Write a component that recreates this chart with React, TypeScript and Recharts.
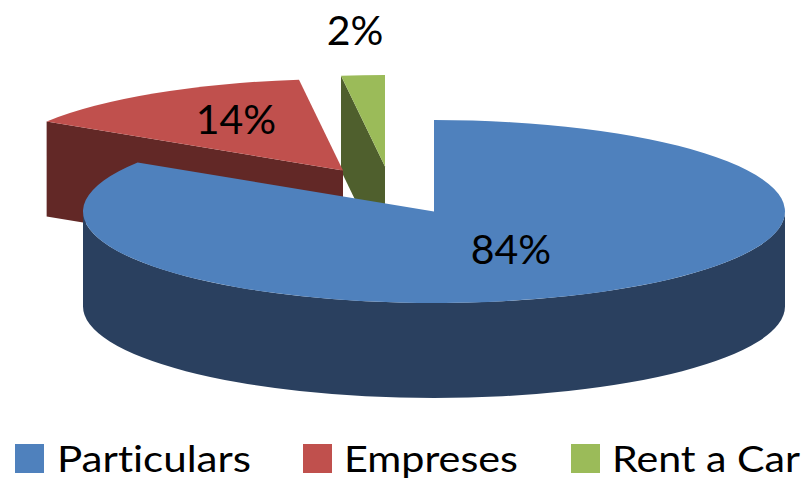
import React from 'react';
import { PieChart, Pie, Legend } from 'recharts';

// Drawn in this order, counter-clockwise from 12 o'clock, so the blue slice sits in front.
const sliceNames = ['Rent a Car', 'Empreses', 'Particulars'];
const sliceValues = [2, 14, 84];
const legendNames = ['Particulars', 'Empreses', 'Rent a Car'];

const topColors: Record<string, string> = { Particulars: '#4F81BD', Empreses: '#C0504D', 'Rent a Car': '#9BBB59' };
const sideColors: Record<string, string> = { Particulars: '#2A405F', Empreses: '#622826', 'Rent a Car': '#4F5F2D' };

const data = sliceNames.map((name, i) => ({ name, value: sliceValues[i] }));

// layout of the tilted, exploded pie
const CX = 434;
const CY = 211.5;
const RX = 351;
const TILT = 91.5 / 351;
const DEPTH = 95;
const explode: Record<string, [number, number]> = { Particulars: [0, 0], Empreses: [-91, -41], 'Rent a Car': [-49, -45] };
const labelOffset: Record<string, [number, number]> = { Particulars: [77, 37], Empreses: [-107, -52], 'Rent a Car': [-30, -137] };
const legendLayout: Record<string, { sq: number; tx: number; w: number }> = {
  Particulars: { sq: 15, tx: 57, w: 194 },
  Empreses: { sq: 303, tx: 344, w: 174 },
  'Rent a Car': { sq: 571, tx: 612, w: 188 },
};

const rad = (d: number) => (d * Math.PI) / 180;

function Slice3D(props: any) {
  const { cx, cy, outerRadius: r, startAngle, endAngle } = props;
  const name: string = props.name ?? props.payload?.name;
  const [ox, oy] = explode[name];
  const px = cx + ox;
  const py = cy + oy;
  const pt = (a: number, dz = 0): [number, number] => [px + r * Math.cos(rad(a)), py - r * TILT * Math.sin(rad(a)) + dz];
  const arc = (a: number, b: number, dz = 0) => {
    const p = pt(b, dz);
    const large = Math.abs(b - a) > 180 ? 1 : 0;
    const sweep = b > a ? 0 : 1;
    return `A${r} ${r * TILT} 0 ${large} ${sweep} ${p[0]} ${p[1]}`;
  };
  const s = pt(startAngle);
  const e = pt(endAngle);
  const ed = pt(endAngle, DEPTH);
  const top = `M${px} ${py}L${s[0]} ${s[1]}${arc(startAngle, endAngle)}Z`;
  // the cut face on the slice's counter-clockwise edge is the one that faces the viewer
  const face = `M${px} ${py}L${e[0]} ${e[1]}L${ed[0]} ${ed[1]}L${px} ${py + DEPTH}Z`;
  // outer wall: the front half of the rim only
  const a0 = Math.max(startAngle, 180);
  const a1 = Math.min(endAngle, 360);
  let wall = '';
  if (a1 > a0) {
    const w0 = pt(a0);
    const w1 = pt(a1, DEPTH);
    wall = `M${w0[0]} ${w0[1]}${arc(a0, a1)}L${w1[0]} ${w1[1]}${arc(a1, a0, DEPTH)}Z`;
  }
  const side = sideColors[name];
  return (
    <g>
      <path d={face} fill={side} />
      {wall && <path d={wall} fill={side} />}
      <path d={top} fill={topColors[name]} />
    </g>
  );
}

function sliceLabel(props: any) {
  const { cx, cy, value } = props;
  const name: string = props.name ?? props.payload?.name;
  const [ox, oy] = explode[name];
  const [lx, ly] = labelOffset[name];
  return (
    <text
      x={cx + ox + lx}
      y={cy + oy + ly}
      textAnchor="middle"
      dominantBaseline="central"
      fill="#000"
      fontSize={41}
      fontFamily="Lato"
    >
      {`${value}%`}
    </text>
  );
}

function LegendRow() {
  return (
    <svg width={805} height={50} style={{ display: 'block' }}>
      {legendNames.map((n) => (
        <g key={n}>
          <rect x={legendLayout[n].sq} y={14} width={29} height={29} fill={topColors[n]} />
          <text
            x={legendLayout[n].tx}
            y={42}
            fontSize={37}
            fontFamily="Lato"
            fill="#000"
            style={{ fontVariantLigatures: 'none' }}
            textLength={legendLayout[n].w}
            lengthAdjust="spacingAndGlyphs"
          >
            {n}
          </text>
        </g>
      ))}
    </svg>
  );
}

export default function App() {
  return (
    <div style={{ position: 'absolute', left: 0, top: 0, width: 805, height: 480 }}>
      <PieChart width={805} height={480} margin={{ top: 0, right: 0, bottom: 0, left: 0 }}>
        <Pie
          data={data}
          dataKey="value"
          nameKey="name"
          cx={CX}
          cy={CY}
          innerRadius={0}
          outerRadius={RX}
          startAngle={90}
          endAngle={450}
          stroke="none"
          shape={Slice3D}
          label={sliceLabel}
          labelLine={false}
          isAnimationActive={false}
        />
        <Legend verticalAlign="bottom" content={LegendRow} wrapperStyle={{ left: 0, top: 430, width: 805, height: 50 }} />
      </PieChart>
    </div>
  );
}
